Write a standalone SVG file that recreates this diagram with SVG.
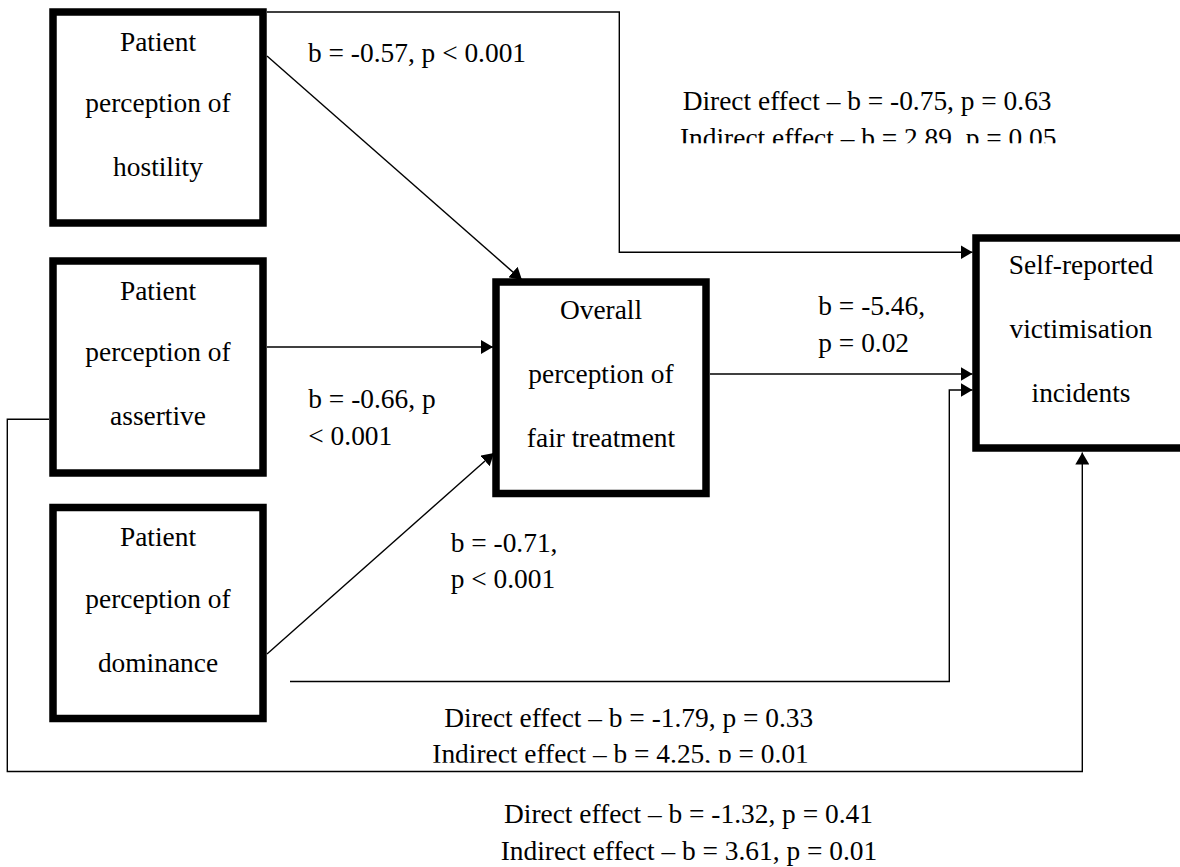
<svg xmlns="http://www.w3.org/2000/svg" width="1180" height="867" viewBox="0 0 1180 867">
<style>
.box{fill:#fff;stroke:#000;stroke-width:7.5}
.t{font-family:"Liberation Serif","Times New Roman",serif;font-size:27.4px;fill:#000}
.c{text-anchor:middle}
.ln{fill:none;stroke:#000;stroke-width:1.4}
</style>
<defs>
<marker id="ah" markerUnits="userSpaceOnUse" markerWidth="13" markerHeight="14" refX="12" refY="7" orient="auto">
<path d="M0,0 L12,7 L0,14 z" fill="#000"/>
</marker>
<clipPath id="clipTop"><rect x="0" y="0" width="1180" height="143.3"/></clipPath>
<clipPath id="clipMid"><rect x="0" y="690" width="1180" height="72.7"/></clipPath>
</defs>
<rect width="1180" height="867" fill="#fff"/>
<g id="connectors">
<path class="ln" d="M267,12 H619.3 V252.3 H972.5" marker-end="url(#ah)"/>
<path class="ln" d="M267,56 L522,280" marker-end="url(#ah)"/>
<path class="ln" d="M267,347 H493" marker-end="url(#ah)"/>
<path class="ln" d="M267,654 L494,453" marker-end="url(#ah)"/>
<path class="ln" d="M710,374 H972.5" marker-end="url(#ah)"/>
<path class="ln" d="M290,681.5 H949.3 V390 H972.5" marker-end="url(#ah)"/>
<path class="ln" d="M49,419.3 H7.3 V771.5 H1082.3 V452.5" marker-end="url(#ah)"/>
</g>
<g id="labels">
<text class="t" x="308" y="62">b = -0.57, p &lt; 0.001</text>
<text class="t" x="682.7" y="110">Direct effect – b = -0.75, p = 0.63</text>
<text class="t" x="680" y="146.5" clip-path="url(#clipTop)">Indirect effect – b = 2.89, p = 0.05</text>
<text class="t" x="308.3" y="408.3">b = -0.66, p</text>
<text class="t" x="308.3" y="445">&lt; 0.001</text>
<text class="t" x="818.3" y="315">b = -5.46,</text>
<text class="t" x="818.3" y="351.7">p = 0.02</text>
<text class="t" x="450.7" y="552.3">b = -0.71,</text>
<text class="t" x="450.7" y="588.3">p &lt; 0.001</text>
<text class="t" x="444.3" y="726.7">Direct effect – b = -1.79, p = 0.33</text>
<text class="t" x="432.3" y="763.3" clip-path="url(#clipMid)">Indirect effect – b = 4.25, p = 0.01</text>
<text class="t" x="504" y="823.3">Direct effect – b = -1.32, p = 0.41</text>
<text class="t" x="500.7" y="860">Indirect effect – b = 3.61, p = 0.01</text>
</g>
<g id="node-hostility">
<rect class="box" x="53" y="12" width="210" height="211"/>
<text class="t c" x="158" y="51">Patient</text>
<text class="t c" x="158" y="112">perception of</text>
<text class="t c" x="158" y="176">hostility</text>
</g>
<g id="node-assertive">
<rect class="box" x="53" y="261" width="210" height="212"/>
<text class="t c" x="158" y="300">Patient</text>
<text class="t c" x="158" y="361">perception of</text>
<text class="t c" x="158" y="425">assertive</text>
</g>
<g id="node-dominance">
<rect class="box" x="53" y="507.5" width="210" height="211"/>
<text class="t c" x="158" y="546">Patient</text>
<text class="t c" x="158" y="607.5">perception of</text>
<text class="t c" x="158" y="671.5">dominance</text>
</g>
<g id="node-fair-treatment">
<rect class="box" x="496" y="282" width="210" height="211.5"/>
<text class="t c" x="601" y="319.3">Overall</text>
<text class="t c" x="601" y="383.3">perception of</text>
<text class="t c" x="601" y="446.7">fair treatment</text>
</g>
<g id="node-victimisation">
<rect class="box" x="976" y="238" width="210" height="210"/>
<text class="t c" x="1081" y="274.3">Self-reported</text>
<text class="t c" x="1081" y="338.3">victimisation</text>
<text class="t c" x="1081" y="401.7">incidents</text>
</g>
</svg>
